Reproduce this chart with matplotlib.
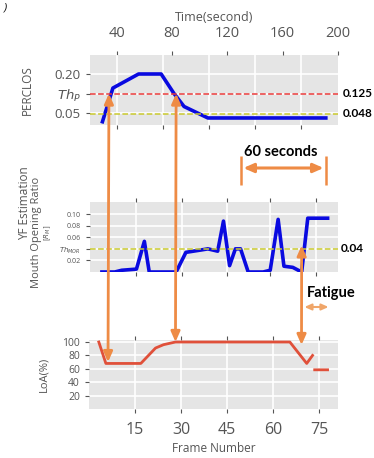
import matplotlib
matplotlib.use('Agg')
import matplotlib.pyplot as plt
from matplotlib.patches import ConnectionPatch
from matplotlib.transforms import blended_transform_factory

plt.style.use('ggplot')
plt.rcParams['font.family'] = ['Open Sans', 'DejaVu Sans']

# ── Dati (asse x in numero di frame) ─────────────────────────────────────
perclos_frame = [3.9, 7.5, 15.9, 23.3, 27.5, 30.8, 38.6, 77.8]
perclos = [0.010, 0.146, 0.200, 0.200, 0.125, 0.075, 0.031, 0.031]
TH_P = 0.125
TH_P_LOW = 0.048

mor_frame = [3.9, 8.1, 10.4, 15.2, 17.8, 19.4, 28.2, 31.4, 36.3, 38.6, 41.8,
             43.7, 45.7, 47.6, 49.3, 51.8, 56.7, 59.0, 61.6, 63.5, 66.4,
             69.3, 71.3, 77.8]
mor = [0.0, 0.0, 0.003, 0.005, 0.053, 0.0, 0.0, 0.034, 0.038, 0.040, 0.036,
       0.088, 0.011, 0.040, 0.040, 0.0, 0.0, 0.003, 0.091, 0.010, 0.008,
       0.0, 0.093, 0.093]
TH_MOR = 0.04

loa_frame = [3.2, 5.5, 16.9, 21.7, 24.3, 28.2, 65.5, 71.0, 72.9, 73.2, 73.6, 77.8]
loa = [100, 68, 68, 91, 96, 100, 100, 68, 80, float('nan'), 58.5, 58.5]

time_ticks = [40, 80, 120, 160, 200]
frame_ticks = [15, 30, 45, 60, 75]
top_frame_ticks = [9, 24, 39, 54, 69]
mid_frame_ticks = [15, 30, 45, 59, 74]
perclos_ticks = [0.05, TH_P, 0.20]
perclos_tick_labels = ['0.05', r'$Th_P$', '0.20']
mor_ticks = [0.02, TH_MOR, 0.06, 0.08, 0.10]
mor_tick_labels = ['0.02', r'$Th_{MOR}$', '0.06', '0.08', '0.10']
loa_ticks = [20, 40, 60, 80, 100]

# frame dei tre eventi (frecce verticali) e finestre annotate
event_frames = [6.2, 28.2, 69.3]
window_60s = [49.3, 77.4]
fatigue_span = [69.3, 79.0]

ORANGE = '#EE8B45'
BLUE = '#0a0ae0'
RED = '#E0503A'
YEL = '#c9c92e'
XMAX = 81.2


def f2t(f):
    return 2.21 * f + 20.7


def t2f(t):
    return (t - 20.7) / 2.21


W, H = 374, 458
fig = plt.figure(figsize=(W / 100, H / 100), dpi=100)


def box(x0, y0, x1, y1):
    return [x0 / W, 1 - y1 / H, (x1 - x0) / W, (y1 - y0) / H]


ax_top = fig.add_axes(box(90, 55, 338, 125))
ax_mid = fig.add_axes(box(90, 202, 338, 272))
ax_bot = fig.add_axes(box(89, 340, 338, 409))

for ax in (ax_top, ax_mid, ax_bot):
    ax.set_xlim(0, XMAX)
    ax.grid(True, color='white', lw=1.2)
    ax.tick_params(colors='#555555', length=3, width=0.8)
    for s in ax.spines.values():
        s.set_visible(False)

# ── PERCLOS ──────────────────────────────────────────────────────────────
ax_top.plot(perclos_frame, perclos, color=BLUE, lw=2.6, solid_capstyle='butt')
ax_top.axhline(TH_P, color='#e8393a', ls='--', lw=1.1)
ax_top.axhline(TH_P_LOW, color=YEL, ls='--', lw=1.1)
ax_top.set_ylim(0.004, 0.273)
ax_top.set_yticks(perclos_ticks, perclos_tick_labels, fontsize=9.5)
ax_top.set_xticks(top_frame_ticks, [''] * len(top_frame_ticks))
ax_top.set_ylabel('PERCLOS', fontsize=8.5, color='#555555')
ax_top.yaxis.set_label_coords(-0.225, 0.5)
ax_top.text(1.02, TH_P, '0.125', transform=ax_top.get_yaxis_transform(),
            va='center', fontsize=8.5, fontweight='bold', family='Lato')
ax_top.text(1.02, TH_P_LOW, '0.048', transform=ax_top.get_yaxis_transform(),
            va='center', fontsize=8.5, fontweight='bold', family='Lato')
sec = ax_top.secondary_xaxis('top', functions=(f2t, t2f))
sec.set_xticks(time_ticks)
sec.tick_params(colors='#555555', labelsize=10.5, length=3, pad=7)
sec.spines['top'].set_visible(False)
sec.set_xlabel('Time(second)', fontsize=9, color='#555555', labelpad=4)

# ── Mouth Opening Ratio ─────────────────────────────────────────────────
ax_mid.plot(mor_frame, mor, color=BLUE, lw=2.6)
ax_mid.axhline(TH_MOR, color=YEL, ls='--', lw=1.1)
ax_mid.set_ylim(0, 0.121)
ax_mid.set_yticks(mor_ticks, mor_tick_labels, fontsize=5)
ax_mid.set_xticks(mid_frame_ticks, [''] * len(mid_frame_ticks))
ax_mid.tick_params(top=True)
ax_mid.text(1.01, TH_MOR, '0.04', transform=ax_mid.get_yaxis_transform(),
            va='center', fontsize=8.5, fontweight='bold', family='Lato')
fig.text(25 / W, 1 - 203 / H, 'YF Estimation', rotation=90, ha='center',
         va='center', fontsize=8.5, color='#555555')
fig.text(36 / W, 1 - 232 / H, 'Mouth Opening Ratio', rotation=90, ha='center',
         va='center', fontsize=8, color='#555555')
fig.text(48 / W, 1 - 233 / H, r'$[R_M]$', rotation=90, ha='center',
         va='center', fontsize=5, color='#555555')

# ── LoA ─────────────────────────────────────────────────────────────────
ax_bot.plot(loa_frame, loa, color=RED, lw=2)
ax_bot.set_ylim(0, 103)
ax_bot.set_yticks(loa_ticks)
ax_bot.tick_params(axis='y', labelsize=7.5)
ax_bot.set_xticks(frame_ticks)
ax_bot.tick_params(axis='x', labelsize=11.5, top=True, pad=6)
ax_bot.set_ylabel('LoA(%)', fontsize=8, color='#555555')
ax_bot.yaxis.set_label_coords(-0.16, 0.5)
ax_bot.set_xlabel('Frame Number', fontsize=8.5, color='#555555', labelpad=3)

# ── Frecce tra i pannelli ───────────────────────────────────────────────
arrow_kw = dict(arrowstyle='<|-|>,head_length=0.5,head_width=0.22',
                color=ORANGE, lw=2, mutation_scale=12)
ends = [(ax_top, TH_P, 70), (ax_top, TH_P, 100), (ax_mid, 0.046, 95.5)]
for f, (ax_a, ya, yb) in zip(event_frames, ends):
    fig.add_artist(ConnectionPatch((f, ya), (f, yb), coordsA=ax_a.transData,
                                   coordsB=ax_bot.transData, **arrow_kw))

mix = blended_transform_factory(ax_mid.transData, fig.transFigure)
y60 = 1 - 168 / H
ax_mid.annotate('', xy=(window_60s[1], y60), xytext=(window_60s[0], y60),
                xycoords=mix, textcoords=mix, annotation_clip=False,
                arrowprops=dict(arrow_kw, lw=2.2))
ax_mid.vlines(window_60s, 1 - 185 / H, 1 - 156 / H, transform=mix,
              color=ORANGE, lw=1.8, clip_on=False)
ax_mid.text(sum(window_60s) / 2 - 0.8, 1 - 152 / H, '60 seconds', transform=mix,
            ha='center', va='center', fontsize=10.5, fontweight='bold',
            family='Lato')

yfat = 1 - 307 / H
ax_mid.annotate('', xy=(fatigue_span[1], yfat), xytext=(fatigue_span[0], yfat),
                xycoords=mix, textcoords=mix, annotation_clip=False,
                arrowprops=dict(arrowstyle='<|-|>,head_length=0.4,head_width=0.18',
                                color='#F0A66A', lw=1.5, mutation_scale=10))
ax_mid.text(79.0, 1 - 293 / H, 'Fatigue', transform=mix, ha='center',
            va='center', fontsize=10.5, fontweight='bold', family='Lato')

fig.text(4 / W, 1 - 8 / H, ')', fontsize=8, style='italic', va='center')

plt.savefig('out.png', dpi=100)
